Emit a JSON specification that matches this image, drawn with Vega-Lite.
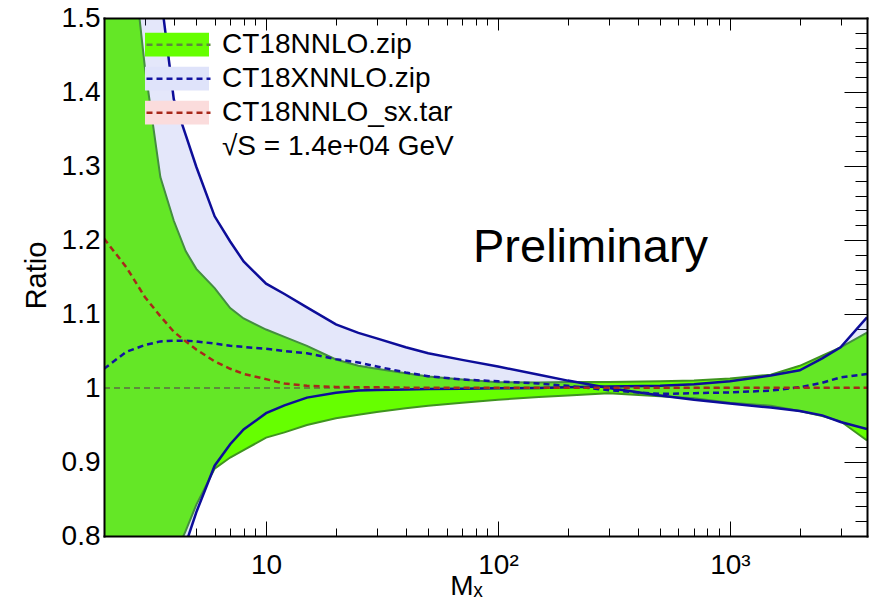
{
  "$schema": "https://vega.github.io/schema/vega-lite/v6.json",
  "width": 763,
  "height": 518,
  "autosize": {"type": "none"},
  "padding": {"left": 104, "top": 18, "right": 3, "bottom": 66},
  "background": "white",
  "config": {
    "view": {"stroke": null},
    "font": "Liberation Sans",
    "axis": {"grid": false, "tickColor": "black", "domainColor": "black", "labelColor": "black", "titleColor": "black", "titleFontWeight": "normal", "labelFont": "Liberation Sans", "titleFont": "Liberation Sans"},
    "legend": {"labelFont": "Liberation Sans", "labelColor": "black"}
  },
  "datasets": {
    "curves": [
      {"series": "CT18NNLO.zip", "x": 2, "lo": 0.55, "hi": 1.95, "mid": 1},
      {"series": "CT18NNLO.zip", "x": 2.5, "lo": 0.62, "hi": 1.66, "mid": 1},
      {"series": "CT18NNLO.zip", "x": 3, "lo": 0.68, "hi": 1.434, "mid": 1},
      {"series": "CT18NNLO.zip", "x": 3.5, "lo": 0.73, "hi": 1.285, "mid": 1},
      {"series": "CT18NNLO.zip", "x": 4, "lo": 0.77, "hi": 1.226, "mid": 1},
      {"series": "CT18NNLO.zip", "x": 4.5, "lo": 0.807, "hi": 1.185, "mid": 1},
      {"series": "CT18NNLO.zip", "x": 5, "lo": 0.842, "hi": 1.161, "mid": 1},
      {"series": "CT18NNLO.zip", "x": 6, "lo": 0.891, "hi": 1.135, "mid": 1},
      {"series": "CT18NNLO.zip", "x": 7, "lo": 0.906, "hi": 1.108, "mid": 1},
      {"series": "CT18NNLO.zip", "x": 8, "lo": 0.916, "hi": 1.094, "mid": 1},
      {"series": "CT18NNLO.zip", "x": 10, "lo": 0.933, "hi": 1.079, "mid": 1},
      {"series": "CT18NNLO.zip", "x": 12, "lo": 0.94, "hi": 1.069, "mid": 1},
      {"series": "CT18NNLO.zip", "x": 15, "lo": 0.95, "hi": 1.057, "mid": 1},
      {"series": "CT18NNLO.zip", "x": 20, "lo": 0.959, "hi": 1.0386, "mid": 1},
      {"series": "CT18NNLO.zip", "x": 25, "lo": 0.964, "hi": 1.03, "mid": 1},
      {"series": "CT18NNLO.zip", "x": 30, "lo": 0.9675, "hi": 1.026, "mid": 1},
      {"series": "CT18NNLO.zip", "x": 40, "lo": 0.9725, "hi": 1.02, "mid": 1},
      {"series": "CT18NNLO.zip", "x": 50, "lo": 0.976, "hi": 1.0157, "mid": 1},
      {"series": "CT18NNLO.zip", "x": 70, "lo": 0.98, "hi": 1.0115, "mid": 1},
      {"series": "CT18NNLO.zip", "x": 100, "lo": 0.984, "hi": 1.0077, "mid": 1},
      {"series": "CT18NNLO.zip", "x": 150, "lo": 0.988, "hi": 1.0075, "mid": 1},
      {"series": "CT18NNLO.zip", "x": 200, "lo": 0.99, "hi": 1.008, "mid": 1},
      {"series": "CT18NNLO.zip", "x": 300, "lo": 0.993, "hi": 1.008, "mid": 1},
      {"series": "CT18NNLO.zip", "x": 500, "lo": 0.989, "hi": 1.009, "mid": 1},
      {"series": "CT18NNLO.zip", "x": 700, "lo": 0.986, "hi": 1.01, "mid": 1},
      {"series": "CT18NNLO.zip", "x": 1000, "lo": 0.98, "hi": 1.013, "mid": 1},
      {"series": "CT18NNLO.zip", "x": 1500, "lo": 0.976, "hi": 1.018, "mid": 1},
      {"series": "CT18NNLO.zip", "x": 2000, "lo": 0.969, "hi": 1.03, "mid": 1},
      {"series": "CT18NNLO.zip", "x": 2500, "lo": 0.962, "hi": 1.0436, "mid": 1},
      {"series": "CT18NNLO.zip", "x": 3000, "lo": 0.955, "hi": 1.055, "mid": 1},
      {"series": "CT18NNLO.zip", "x": 3900, "lo": 0.929, "hi": 1.075, "mid": 1},
      {"series": "CT18XNNLO.zip", "x": 2, "lo": 0.4, "hi": 2.6, "mid": 1.026},
      {"series": "CT18XNNLO.zip", "x": 2.5, "lo": 0.5, "hi": 2.0, "mid": 1.049},
      {"series": "CT18XNNLO.zip", "x": 3, "lo": 0.6, "hi": 1.72, "mid": 1.058},
      {"series": "CT18XNNLO.zip", "x": 3.5, "lo": 0.68, "hi": 1.535, "mid": 1.063},
      {"series": "CT18XNNLO.zip", "x": 4, "lo": 0.74, "hi": 1.39, "mid": 1.064},
      {"series": "CT18XNNLO.zip", "x": 4.5, "lo": 0.789, "hi": 1.342, "mid": 1.064},
      {"series": "CT18XNNLO.zip", "x": 5, "lo": 0.832, "hi": 1.299, "mid": 1.063},
      {"series": "CT18XNNLO.zip", "x": 6, "lo": 0.895, "hi": 1.232, "mid": 1.06},
      {"series": "CT18XNNLO.zip", "x": 7, "lo": 0.924, "hi": 1.198, "mid": 1.057},
      {"series": "CT18XNNLO.zip", "x": 8, "lo": 0.944, "hi": 1.171, "mid": 1.0555},
      {"series": "CT18XNNLO.zip", "x": 10, "lo": 0.966, "hi": 1.141, "mid": 1.053},
      {"series": "CT18XNNLO.zip", "x": 12, "lo": 0.9766, "hi": 1.127, "mid": 1.05},
      {"series": "CT18XNNLO.zip", "x": 15, "lo": 0.987, "hi": 1.109, "mid": 1.047},
      {"series": "CT18XNNLO.zip", "x": 20, "lo": 0.9936, "hi": 1.086, "mid": 1.039},
      {"series": "CT18XNNLO.zip", "x": 25, "lo": 0.9965, "hi": 1.0745, "mid": 1.0345},
      {"series": "CT18XNNLO.zip", "x": 30, "lo": 0.9972, "hi": 1.067, "mid": 1.029},
      {"series": "CT18XNNLO.zip", "x": 40, "lo": 0.998, "hi": 1.055, "mid": 1.021},
      {"series": "CT18XNNLO.zip", "x": 50, "lo": 0.9985, "hi": 1.047, "mid": 1.016},
      {"series": "CT18XNNLO.zip", "x": 70, "lo": 0.999, "hi": 1.038, "mid": 1.0115},
      {"series": "CT18XNNLO.zip", "x": 100, "lo": 0.9997, "hi": 1.029, "mid": 1.009},
      {"series": "CT18XNNLO.zip", "x": 150, "lo": 1.0, "hi": 1.018, "mid": 1.006},
      {"series": "CT18XNNLO.zip", "x": 200, "lo": 1.001, "hi": 1.01, "mid": 1.003},
      {"series": "CT18XNNLO.zip", "x": 300, "lo": 1.002, "hi": 1.0, "mid": 0.997},
      {"series": "CT18XNNLO.zip", "x": 500, "lo": 1.003, "hi": 0.99, "mid": 0.992},
      {"series": "CT18XNNLO.zip", "x": 700, "lo": 1.005, "hi": 0.984, "mid": 0.993},
      {"series": "CT18XNNLO.zip", "x": 1000, "lo": 1.009, "hi": 0.979, "mid": 0.994},
      {"series": "CT18XNNLO.zip", "x": 1500, "lo": 1.017, "hi": 0.9735, "mid": 0.9965},
      {"series": "CT18XNNLO.zip", "x": 2000, "lo": 1.024, "hi": 0.969, "mid": 1.001},
      {"series": "CT18XNNLO.zip", "x": 2500, "lo": 1.04, "hi": 0.963, "mid": 1.007},
      {"series": "CT18XNNLO.zip", "x": 3000, "lo": 1.055, "hi": 0.954, "mid": 1.0144},
      {"series": "CT18XNNLO.zip", "x": 3900, "lo": 1.0955, "hi": 0.9447, "mid": 1.019},
      {"series": "CT18NNLO_sx.tar", "x": 2, "mid": 1.202},
      {"series": "CT18NNLO_sx.tar", "x": 2.5, "mid": 1.163},
      {"series": "CT18NNLO_sx.tar", "x": 3, "mid": 1.123},
      {"series": "CT18NNLO_sx.tar", "x": 3.5, "mid": 1.097},
      {"series": "CT18NNLO_sx.tar", "x": 4, "mid": 1.076},
      {"series": "CT18NNLO_sx.tar", "x": 4.5, "mid": 1.063},
      {"series": "CT18NNLO_sx.tar", "x": 5, "mid": 1.052},
      {"series": "CT18NNLO_sx.tar", "x": 6, "mid": 1.036},
      {"series": "CT18NNLO_sx.tar", "x": 7, "mid": 1.026},
      {"series": "CT18NNLO_sx.tar", "x": 8, "mid": 1.019},
      {"series": "CT18NNLO_sx.tar", "x": 10, "mid": 1.012},
      {"series": "CT18NNLO_sx.tar", "x": 12, "mid": 1.006},
      {"series": "CT18NNLO_sx.tar", "x": 15, "mid": 1.003},
      {"series": "CT18NNLO_sx.tar", "x": 20, "mid": 1.0015},
      {"series": "CT18NNLO_sx.tar", "x": 25, "mid": 1.001},
      {"series": "CT18NNLO_sx.tar", "x": 30, "mid": 1.001},
      {"series": "CT18NNLO_sx.tar", "x": 40, "mid": 1.0005},
      {"series": "CT18NNLO_sx.tar", "x": 50, "mid": 1.0005},
      {"series": "CT18NNLO_sx.tar", "x": 70, "mid": 1.0005},
      {"series": "CT18NNLO_sx.tar", "x": 100, "mid": 1.0005},
      {"series": "CT18NNLO_sx.tar", "x": 150, "mid": 1.0005},
      {"series": "CT18NNLO_sx.tar", "x": 200, "mid": 1.0005},
      {"series": "CT18NNLO_sx.tar", "x": 300, "mid": 1.0005},
      {"series": "CT18NNLO_sx.tar", "x": 500, "mid": 1.0005},
      {"series": "CT18NNLO_sx.tar", "x": 700, "mid": 1.0005},
      {"series": "CT18NNLO_sx.tar", "x": 1000, "mid": 1.0005},
      {"series": "CT18NNLO_sx.tar", "x": 1500, "mid": 1.0005},
      {"series": "CT18NNLO_sx.tar", "x": 2000, "mid": 1.0005},
      {"series": "CT18NNLO_sx.tar", "x": 2500, "mid": 1.0005},
      {"series": "CT18NNLO_sx.tar", "x": 3000, "mid": 1.0005},
      {"series": "CT18NNLO_sx.tar", "x": 3900, "mid": 1.0005}
    ]
  },
  "data": {"name": "curves"},
  "resolve": {"axis": {"x": "independent", "y": "independent"}},
  "layer": [
    {
      "transform": [{"filter": "datum.series === 'CT18NNLO.zip'"}],
      "mark": {"type": "area", "clip": true},
      "encoding": {
        "x": {"field": "x", "type": "quantitative", "scale": {"type": "log", "domain": [2, 3900], "nice": false},
          "axis": {"orient": "bottom", "values": [10, 100, 1000], "labelExpr": "datum.value == 10 ? '10' : datum.value == 100 ? '10²' : '10³'", "ticks": false, "domain": true, "domainWidth": 2, "domainCap": "square", "zindex": 1, "labelFontSize": 28, "labelPadding": 15, "labelBaseline": "top", "labelFlush": false, "labelOverlap": false, "labelBound": false, "title": "Mₓ", "titleFontSize": 28, "titleX": 362, "titleY": 58, "titleAlign": "center", "titleBaseline": "alphabetic"}},
        "y": {"field": "hi", "type": "quantitative", "scale": {"domain": [0.8, 1.5], "nice": false, "zero": false},
          "axis": {"orient": "left", "values": [0.8, 0.9, 1, 1.1, 1.2, 1.3, 1.4, 1.5], "format": "~g", "ticks": false, "domain": true, "domainWidth": 2, "domainCap": "square", "zindex": 1, "labelFontSize": 28, "labelPadding": 4, "labelFlush": false, "labelOverlap": false, "labelBound": false, "title": "Ratio", "titleFontSize": 29, "titleX": -59, "titleY": 257, "titleAngle": 270, "titleAlign": "center", "titleBaseline": "alphabetic"}},
        "y2": {"field": "lo"},
        "fill": {"field": "series", "type": "nominal",
          "scale": {"domain": ["CT18NNLO.zip", "CT18XNNLO.zip", "CT18NNLO_sx.tar", "√S = 1.4e+04 GeV"], "range": ["#66ff00", "#dfe3fa", "#fbdcdc", "rgba(255,255,255,0)"]},
          "legend": {"title": null, "orient": "none", "legendX": 41, "legendY": 10, "direction": "vertical", "symbolType": "M-1,-0.37H1V0.37H-1Z", "symbolSize": 4096, "symbolStrokeWidth": 0, "symbolOpacity": 1, "clipHeight": 33.3, "rowPadding": 0, "padding": 0, "labelFontSize": 28, "labelOffset": 13, "labelLimit": 400}}
      }
    },
    {
      "transform": [{"filter": "datum.series === 'CT18NNLO.zip'"}, {"fold": ["lo", "hi"], "as": ["edge", "val"]}],
      "mark": {"type": "line", "clip": true, "stroke": "#3f941f", "strokeWidth": 2},
      "encoding": {
        "x": {"field": "x", "type": "quantitative", "scale": {"type": "log", "domain": [2, 3900], "nice": false},
          "axis": {"orient": "bottom", "values": [10, 100, 1000], "labels": false, "domain": false, "ticks": true, "tickSize": 15, "offset": -15, "tickWidth": 1, "title": null}},
        "y": {"field": "val", "type": "quantitative", "scale": {"domain": [0.8, 1.5], "nice": false, "zero": false},
          "axis": {"orient": "left", "values": [0.8, 0.9, 1, 1.1, 1.2, 1.3, 1.4, 1.5], "labels": false, "domain": false, "ticks": true, "tickSize": 23, "offset": -23, "tickWidth": 1, "title": null}},
        "detail": {"field": "edge", "type": "nominal"}
      }
    },
    {
      "transform": [{"filter": "datum.series === 'CT18XNNLO.zip'"}],
      "mark": {"type": "area", "clip": true, "fill": "#6070e0", "fillOpacity": 0.17},
      "encoding": {
        "x": {"field": "x", "type": "quantitative", "scale": {"type": "log", "domain": [2, 3900], "nice": false},
          "axis": {"orient": "top", "values": [3, 4, 5, 6, 7, 8, 9, 20, 30, 40, 50, 60, 70, 80, 90, 200, 300, 400, 500, 600, 700, 800, 900, 2000, 3000], "labels": false, "domain": false, "ticks": true, "tickSize": 7, "offset": -7, "tickWidth": 1, "title": null}},
        "y": {"field": "hi", "type": "quantitative", "scale": {"domain": [0.8, 1.5], "nice": false, "zero": false},
          "axis": {"orient": "right", "values": [0.82, 0.84, 0.86, 0.88, 0.92, 0.94, 0.96, 0.98, 1.02, 1.04, 1.06, 1.08, 1.12, 1.14, 1.16, 1.18, 1.22, 1.24, 1.26, 1.28, 1.32, 1.34, 1.36, 1.38, 1.42, 1.44, 1.46, 1.48], "labels": false, "domain": false, "ticks": true, "tickSize": 12, "offset": -12, "tickWidth": 1, "title": null}},
        "y2": {"field": "lo"}
      }
    },
    {
      "transform": [{"filter": "datum.series === 'CT18XNNLO.zip'"}, {"fold": ["lo", "hi"], "as": ["edge", "val"]}],
      "mark": {"type": "line", "clip": true, "stroke": "#0d0d99", "strokeWidth": 2.5},
      "encoding": {
        "x": {"field": "x", "type": "quantitative", "scale": {"type": "log", "domain": [2, 3900], "nice": false},
          "axis": {"orient": "bottom", "values": [3, 4, 5, 6, 7, 8, 9, 20, 30, 40, 50, 60, 70, 80, 90, 200, 300, 400, 500, 600, 700, 800, 900, 2000, 3000], "labels": false, "domain": false, "ticks": true, "tickSize": 8, "offset": -8, "tickWidth": 1, "title": null}},
        "y": {"field": "val", "type": "quantitative", "scale": {"domain": [0.8, 1.5], "nice": false, "zero": false},
          "axis": {"orient": "left", "values": [0.82, 0.84, 0.86, 0.88, 0.92, 0.94, 0.96, 0.98, 1.02, 1.04, 1.06, 1.08, 1.12, 1.14, 1.16, 1.18, 1.22, 1.24, 1.26, 1.28, 1.32, 1.34, 1.36, 1.38, 1.42, 1.44, 1.46, 1.48], "labels": false, "domain": false, "ticks": true, "tickSize": 12, "offset": -12, "tickWidth": 1, "title": null}},
        "detail": {"field": "edge", "type": "nominal"}
      }
    },
    {
      "mark": {"type": "line", "clip": true, "strokeDash": [6, 4]},
      "encoding": {
        "x": {"field": "x", "type": "quantitative", "scale": {"type": "log", "domain": [2, 3900], "nice": false},
          "axis": {"orient": "top", "values": [10, 100, 1000], "labels": false, "domain": false, "ticks": true, "tickSize": 12, "offset": -12, "tickWidth": 1, "title": null}},
        "y": {"field": "mid", "type": "quantitative", "scale": {"domain": [0.8, 1.5], "nice": false, "zero": false},
          "axis": {"orient": "right", "values": [0.8, 0.9, 1, 1.1, 1.2, 1.3, 1.4, 1.5], "labels": false, "domain": false, "ticks": true, "tickSize": 23, "offset": -23, "tickWidth": 1, "title": null}},
        "stroke": {"field": "series", "type": "nominal",
          "scale": {"domain": ["CT18NNLO.zip", "CT18XNNLO.zip", "CT18NNLO_sx.tar"], "range": ["#5e8a3c", "#1212a0", "#a8281a"]},
          "legend": {"title": null, "orient": "none", "legendX": 41, "legendY": 10, "direction": "vertical", "symbolType": "stroke", "symbolSize": 4096, "symbolStrokeWidth": 2.5, "symbolDash": [6, 4], "clipHeight": 33.3, "rowPadding": 0, "padding": 0, "labelExpr": "''", "labelFontSize": 28, "labelOffset": 13}},
        "strokeWidth": {"condition": {"test": "datum.series === 'CT18NNLO.zip'", "value": 1.8}, "value": 2.5}
      }
    },
    {
      "data": {"values": [{"label": "Preliminary"}]},
      "mark": {"type": "text", "fontSize": 47, "align": "left", "baseline": "alphabetic", "font": "Liberation Sans", "color": "black"},
      "encoding": {
        "text": {"field": "label"},
        "x": {"datum": 78, "type": "quantitative", "scale": {"type": "log", "domain": [2, 3900], "nice": false},
          "axis": {"orient": "top", "labels": false, "ticks": false, "domain": true, "domainWidth": 2, "domainCap": "square", "zindex": 1, "title": null}},
        "y": {"datum": 1.17, "type": "quantitative", "scale": {"domain": [0.8, 1.5], "nice": false, "zero": false},
          "axis": {"orient": "right", "labels": false, "ticks": false, "domain": true, "domainWidth": 2, "domainCap": "square", "zindex": 1, "title": null}}
      }
    }
  ]
}
